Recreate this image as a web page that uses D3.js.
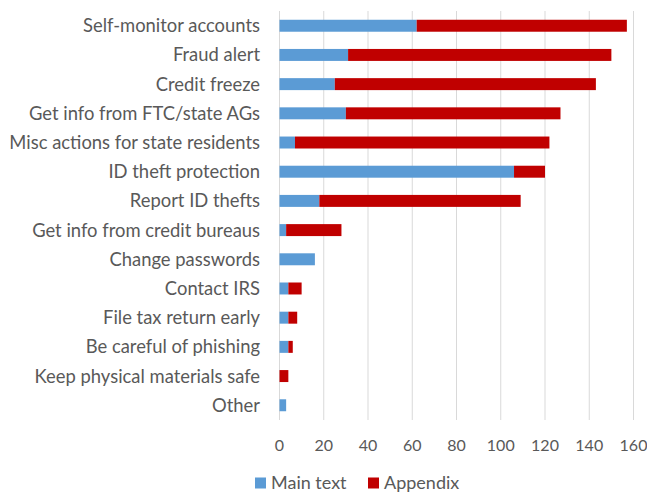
<!DOCTYPE html>
<html>
<head>
<meta charset="utf-8">
<script src="https://cdn.jsdelivr.net/npm/d3@7"></script>
<style>
body { margin: 0; background: #fff; }
svg text { font-family: Lato, "Open Sans", sans-serif; fill: #595959; }
</style>
</head>
<body>
<div id="chart"></div>
<script>
// categories top to bottom
var categories = ["Self-monitor accounts", "Fraud alert", "Credit freeze", "Get info from FTC/state AGs",
  "Misc actions for state residents", "ID theft protection", "Report ID thefts",
  "Get info from credit bureaus", "Change passwords", "Contact IRS", "File tax return early",
  "Be careful of phishing", "Keep physical materials safe", "Other"];
var mainText = [62, 31, 25, 30, 7, 106, 18, 3, 16, 4, 4, 4, 0, 3];
var appendix = [95, 119, 118, 97, 115, 14, 91, 25, 0, 6, 4, 2, 4, 0];
var xTicks = [0, 20, 40, 60, 80, 100, 120, 140, 160];
var seriesNames = ["Main text", "Appendix"];
var colors = ["#5b9bd5", "#c00000"];

var w = 647, h = 495;
var svg = d3.select("#chart").append("svg").attr("width", w).attr("height", h);

var x = d3.scaleLinear().domain([0, 160]).range([279.5, 633.5]);
var y = d3.scaleBand().domain(categories).range([11, 420]).paddingInner(0.59).paddingOuter(0.3);

// gridlines
svg.append("g")
  .selectAll("line")
  .data(xTicks)
  .enter()
  .append("line")
  .attr("x1", d => x(d)).attr("x2", d => x(d))
  .attr("y1", 11).attr("y2", 420)
  .attr("stroke", "#d9d9d9")
  .attr("stroke-width", 1);

var rows = categories.map((c, i) => ({cat: c, main: mainText[i], app: appendix[i]}));
var stacked = d3.stack().keys(["main", "app"])(rows);

svg.append("g")
  .selectAll("g")
  .data(stacked)
  .enter()
  .append("g")
  .attr("fill", (d, i) => colors[i])
  .selectAll("rect")
  .data(d => d)
  .enter()
  .append("rect")
  .attr("x", d => x(d[0]))
  .attr("width", d => x(d[1]) - x(d[0]))
  .attr("y", d => y(d.data.cat))
  .attr("height", y.bandwidth());

// category labels
svg.append("g")
  .selectAll("text")
  .data(categories)
  .enter()
  .append("text")
  .attr("x", 260)
  .attr("y", d => y(d) + y.bandwidth() / 2)
  .attr("dy", "0.35em")
  .attr("text-anchor", "end")
  .style("font-size", "18.4px")
  .text(d => d);

// x tick labels
svg.append("g")
  .selectAll("text")
  .data(xTicks)
  .enter()
  .append("text")
  .attr("x", d => x(d))
  .attr("y", 445)
  .attr("dy", "0.35em")
  .attr("text-anchor", "middle")
  .style("font-size", "16px")
  .text(d => d);

// legend
var legendX = [255, 368];
var lg = svg.append("g")
  .selectAll("g")
  .data(seriesNames)
  .enter()
  .append("g")
  .attr("transform", (d, i) => "translate(" + legendX[i] + ",483)");
lg.append("rect").attr("x", 0).attr("y", -5.5).attr("width", 11).attr("height", 11)
  .attr("fill", (d, i) => colors[i]);
lg.append("text").attr("x", 16).attr("dy", "0.35em").style("font-size", "18px").text(d => d);
</script>
</body>
</html>
